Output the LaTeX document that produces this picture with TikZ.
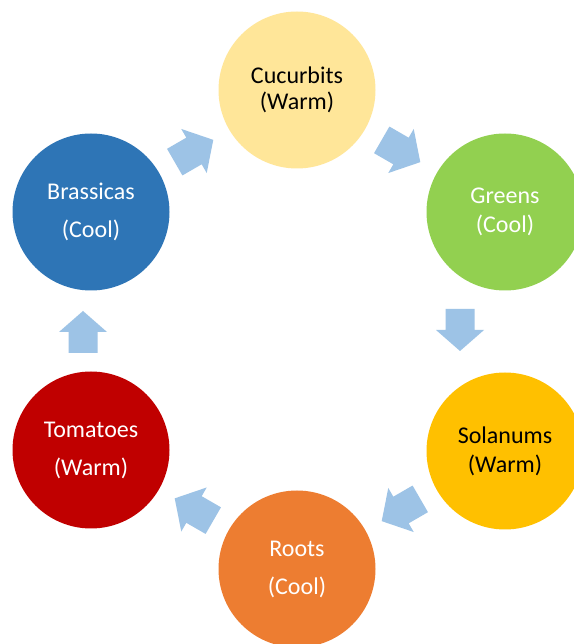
\documentclass[tikz,border=0pt]{standalone}
\usepackage{fontspec}
\setmainfont{Carlito}
\usetikzlibrary{calc}
\definecolor{cucuyellow}{HTML}{FFE699}
\definecolor{greensgreen}{HTML}{92D050}
\definecolor{solayellow}{HTML}{FFC000}
\definecolor{rootsorange}{HTML}{ED7D31}
\definecolor{tomared}{HTML}{C00000}
\definecolor{brasblue}{HTML}{2E75B6}
\definecolor{arrowblue}{HTML}{9DC3E6}
\tikzset{
    crop/.style={circle, inner sep=0pt, minimum size=117.75pt, align=center,
        font=\fontsize{18}{19.5}\selectfont},
    blockarrow/.pic={\fill[arrowblue] (-21,-14.5) -- (0,-14.5) -- (0,-24) -- (21,0)
        -- (0,24) -- (0,14.5) -- (-21,14.5) -- cycle;}
}
\begin{document}
\begin{tikzpicture}[x=0.75pt,y=0.75pt]
    \useasboundingbox (0,0) rectangle (574,644);
    \fill[white] (0,0) rectangle (574,644);
    \clip (0,0) rectangle (574,644);
    \node[crop, fill=cucuyellow] (cucu) at (297,554) {Cucurbits\\(Warm)};
    \node[crop, fill=greensgreen, text=white] (gree) at (505,432) {Greens\\[2pt](Cool)};
    \node[crop, fill=solayellow] (sola) at (505,193) {Solanums\\[2pt](Warm)};
    \node[crop, fill=rootsorange, text=white] (root) at (297,75) {Roots\\[9pt](Cool)};
    \node[crop, fill=tomared, text=white] (toma) at (91,194) {Tomatoes\\[9pt](Warm)};
    \node[crop, fill=brasblue, text=white] (bras) at (91,432) {Brassicas\\[9pt](Cool)};
    % arrows round the cycle
    \pic[rotate=30, scale=1.06] at ($(bras)!0.5!(cucu)$) {blockarrow};
    \pic[rotate=-30, scale=1.06] at ($(cucu)!0.5!(gree)$) {blockarrow};
    \pic[rotate=-90] at (460,314) {blockarrow};
    \pic[rotate=-150, scale=1.06] at ($(sola)!0.5!(root)$) {blockarrow};
    \pic[rotate=150, scale=1.06] at ($(root)!0.5!(toma)$) {blockarrow};
    \pic[rotate=90] at (83,312) {blockarrow};
\end{tikzpicture}
\end{document}
